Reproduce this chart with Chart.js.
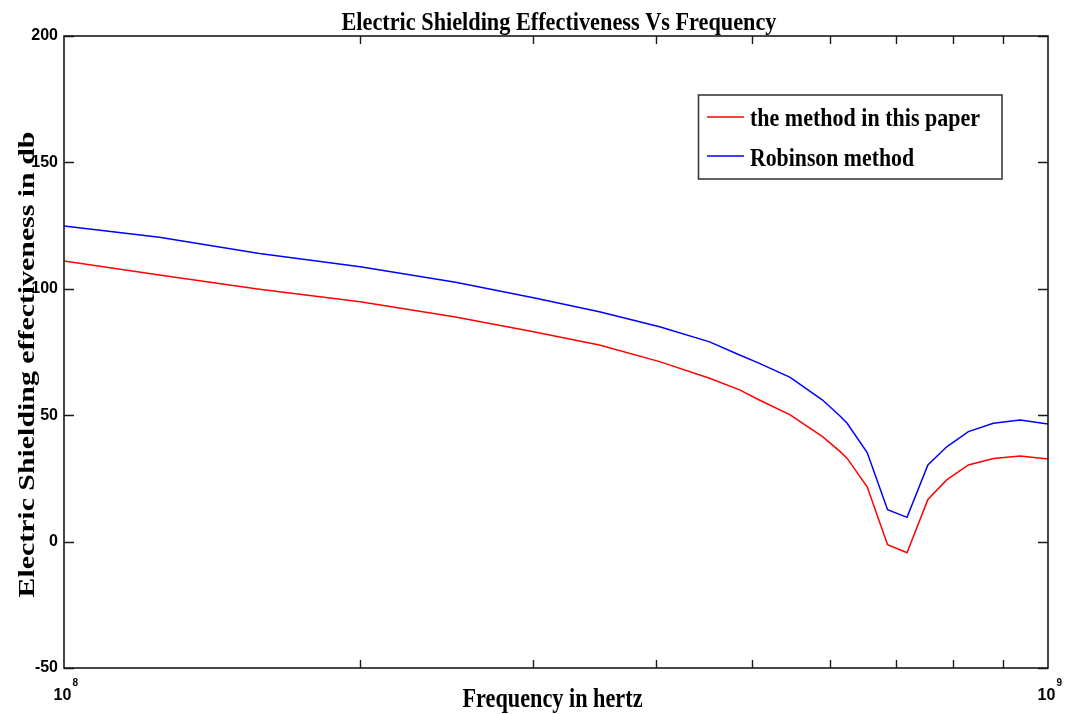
<!DOCTYPE html>
<html>
<head>
<meta charset="utf-8">
<title>Electric Shielding Effectiveness Vs Frequency</title>
<script src="https://cdn.jsdelivr.net/npm/chart.js@4.4.1/dist/chart.umd.min.js"></script>
<style>
  html, body { margin: 0; padding: 0; background: #ffffff; }
  #wrap { width: 1065px; height: 714px; }
</style>
</head>
<body>
<div id="wrap"><canvas id="chart" width="1065" height="714"></canvas></div>
<script>
// Sampled frequencies (Hz) and shielding effectiveness (dB) for both methods
const frequencyHz = [
  1.00e8, 1.25e8, 1.58e8, 2.00e8, 2.50e8, 3.00e8, 3.50e8, 4.03e8, 4.53e8,
  4.86e8, 5.07e8, 5.47e8, 5.90e8, 6.15e8, 6.25e8, 6.55e8, 6.87e8, 7.19e8, 7.55e8,
  7.89e8, 8.30e8, 8.80e8, 9.37e8, 1.00e9
];
const thisPaperDb = [
  111.0, 105.5, 99.8, 94.9, 88.8, 83.0, 77.8, 71.2, 64.6,
  60.0, 56.3, 50.1, 41.5, 35.6, 32.9, 21.7, -1.2, -4.4, 16.7,
  24.4, 30.3, 32.9, 33.9, 32.7
];
const robinsonDb = [
  124.8, 120.4, 114.0, 108.7, 102.6, 96.5, 90.9, 85.0, 79.0,
  73.8, 70.8, 65.0, 56.0, 49.6, 46.8, 35.2, 12.6, 9.6, 30.3,
  37.5, 43.5, 46.8, 48.1, 46.5
];

const seriesLabels = ['the method in this paper', 'Robinson method'];
const seriesColors = ['#ff0000', '#0000ff'];

const yTickValues = [-50, 0, 50, 100, 150, 200];
const xDecadeExponents = [8, 9];
const xMinorMultipliers = [2, 3, 4, 5, 6, 7, 8, 9];

const titleText = 'Electric Shielding Effectiveness Vs Frequency';
const xTitleText = 'Frequency in hertz';
const yTitleText = 'Electric Shielding effectiveness in db';

const SERIF = '"Liberation Serif", "Times New Roman", serif';
const SANS = '"Liberation Sans", Arial, sans-serif';

function toPoints(xs, ys) {
  return xs.map((x, i) => ({ x: x, y: ys[i] }));
}

// Horizontal text squeezed/stretched to a given length
function drawFitted(ctx, text, font, x, y, length) {
  ctx.save();
  ctx.font = font;
  const w = ctx.measureText(text).width;
  ctx.translate(x, y);
  ctx.scale(length / w, 1);
  ctx.textAlign = 'left';
  ctx.textBaseline = 'alphabetic';
  ctx.fillText(text, 0, 0);
  ctx.restore();
}

// Vertical (bottom-to-top) text: natural proportions along the text,
// glyph height across the text squeezed to a given cap height
function drawVertical(ctx, text, weight, family, x, y, length, capHeight) {
  ctx.save();
  ctx.font = weight + ' 24px ' + family;
  const w24 = ctx.measureText(text).width;
  const size = 24 * length / w24;
  ctx.font = weight + ' ' + size + 'px ' + family;
  ctx.translate(x, y);
  ctx.rotate(-Math.PI / 2);
  ctx.scale(1, capHeight / (0.662 * size));
  ctx.textAlign = 'left';
  ctx.textBaseline = 'alphabetic';
  ctx.fillText(text, 0, 0);
  ctx.restore();
}

const framePlugin = {
  id: 'matlabFrame',
  afterDatasetsDraw(chart) {
    const ctx = chart.ctx;
    const area = chart.chartArea;
    const xs = chart.scales.x;
    const ys = chart.scales.y;

    ctx.save();
    // axes box
    ctx.strokeStyle = '#1a1a1a';
    ctx.lineWidth = 1.6;
    ctx.strokeRect(area.left, area.top, area.right - area.left, area.bottom - area.top);

    // inward y ticks on both sides
    ctx.lineWidth = 1.4;
    yTickValues.forEach(v => {
      const py = Math.round(ys.getPixelForValue(v)) + 0.5;
      ctx.beginPath();
      ctx.moveTo(area.left, py); ctx.lineTo(area.left + 10, py);
      ctx.moveTo(area.right, py); ctx.lineTo(area.right - 10, py);
      ctx.stroke();
    });

    // inward minor x ticks on bottom and top
    xDecadeExponents.slice(0, -1).forEach(e => {
      xMinorMultipliers.forEach(m => {
        const px = Math.round(xs.getPixelForValue(m * Math.pow(10, e))) + 0.5;
        ctx.beginPath();
        ctx.moveTo(px, area.bottom); ctx.lineTo(px, area.bottom - 8);
        ctx.moveTo(px, area.top); ctx.lineTo(px, area.top + 8);
        ctx.stroke();
      });
    });

    // decade labels: "10" with a raised exponent
    ctx.fillStyle = '#000000';
    xDecadeExponents.forEach(e => {
      const px = xs.getPixelForValue(Math.pow(10, e));
      ctx.font = 'bold 16px ' + SANS;
      ctx.textAlign = 'center';
      ctx.textBaseline = 'alphabetic';
      const base = '10';
      const bw = ctx.measureText(base).width;
      const cx = px - 1.5;
      ctx.fillText(base, cx, 699.5);
      ctx.font = 'bold 10px ' + SANS;
      ctx.textAlign = 'left';
      ctx.fillText(String(e), cx + bw / 2 + 1, 686);
    });

    // titles
    drawFitted(ctx, titleText, 'bold 25px ' + SERIF, 341.5, 29.5, 435);
    drawFitted(ctx, xTitleText, 'bold 27px ' + SERIF, 462.5, 707, 180);
    drawVertical(ctx, yTitleText, 'bold', SERIF, 33.5, 597.5, 466, 15.5);

    // legend
    const lx = 698.5, ly = 95, lw = 303.5, lh = 84;
    ctx.fillStyle = '#ffffff';
    ctx.fillRect(lx, ly, lw, lh);
    ctx.strokeStyle = '#3a3a3a';
    ctx.lineWidth = 1.6;
    ctx.strokeRect(lx, ly, lw, lh);
    const rows = [
      { lineY: 117, baseY: 126, textW: 230 },
      { lineY: 156, baseY: 165.7, textW: 164 }
    ];
    chart.data.datasets.forEach((ds, i) => {
      const r = rows[i];
      ctx.strokeStyle = ds.borderColor;
      ctx.lineWidth = 1.4;
      ctx.beginPath();
      ctx.moveTo(707, r.lineY); ctx.lineTo(744, r.lineY);
      ctx.stroke();
      ctx.fillStyle = '#000000';
      drawFitted(ctx, ds.label, 'bold 26px ' + SERIF, 750, r.baseY, r.textW);
    });
    ctx.restore();
  }
};

new Chart(document.getElementById('chart'), {
  type: 'line',
  data: {
    datasets: [
      {
        label: seriesLabels[0],
        data: toPoints(frequencyHz, thisPaperDb),
        borderColor: seriesColors[0],
        backgroundColor: seriesColors[0],
        borderWidth: 1.5,
        pointRadius: 0,
        tension: 0,
        fill: false
      },
      {
        label: seriesLabels[1],
        data: toPoints(frequencyHz, robinsonDb),
        borderColor: seriesColors[1],
        backgroundColor: seriesColors[1],
        borderWidth: 1.5,
        pointRadius: 0,
        tension: 0,
        fill: false
      }
    ]
  },
  options: {
    responsive: false,
    animation: false,
    devicePixelRatio: 1,
    layout: { padding: { left: 0, top: 36, right: 17, bottom: 0 } },
    plugins: {
      legend: { display: false },
      title: { display: false },
      tooltip: { enabled: false }
    },
    scales: {
      x: {
        type: 'logarithmic',
        position: 'bottom',
        min: 1e8,
        max: 1e9,
        grid: { display: false, drawTicks: false },
        border: { display: false },
        ticks: { display: false },
        afterFit(scale) { scale.height = 46; }
      },
      y: {
        type: 'linear',
        min: -50,
        max: 200,
        grid: { display: false, drawTicks: false },
        border: { display: false },
        ticks: {
          stepSize: 50,
          padding: 6,
          color: '#000000',
          font: { family: SANS, size: 16, weight: 'bold' }
        },
        afterFit(scale) { scale.width = 64; }
      }
    }
  },
  plugins: [framePlugin]
});
</script>
</body>
</html>
